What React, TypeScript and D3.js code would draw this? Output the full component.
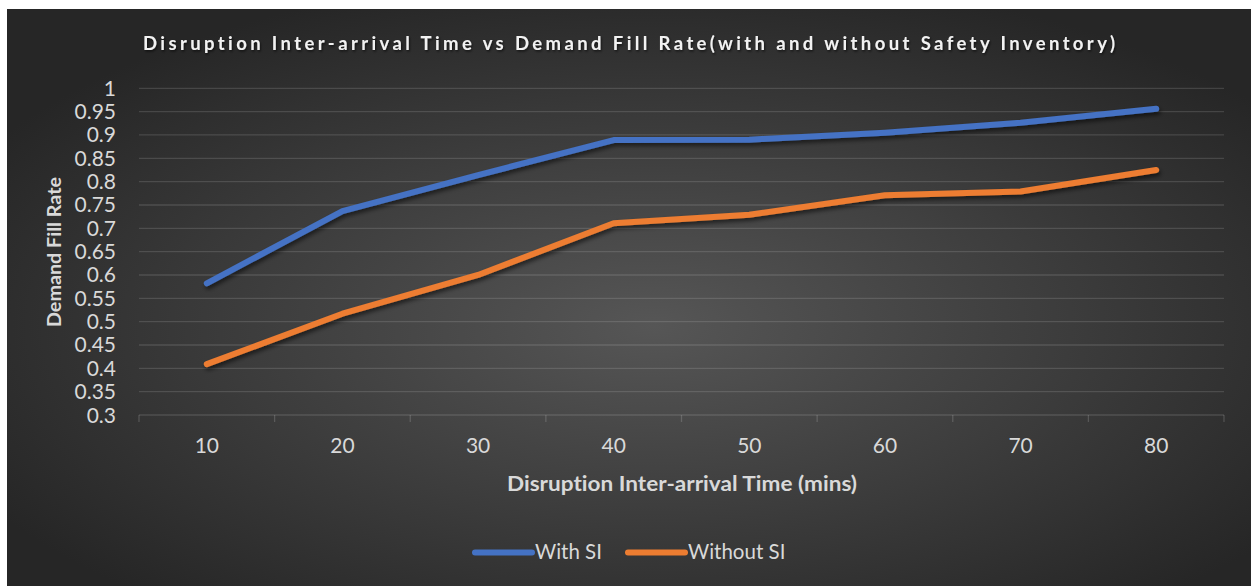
import React from "react";
import * as d3 from "d3";

const categories = ["10", "20", "30", "40", "50", "60", "70", "80"];
const withSI = [0.582, 0.737, 0.814, 0.889, 0.890, 0.905, 0.926, 0.956];
const withoutSI = [0.409, 0.517, 0.600, 0.711, 0.729, 0.771, 0.779, 0.825];
const yTicks = [0.3, 0.35, 0.4, 0.45, 0.5, 0.55, 0.6, 0.65, 0.7, 0.75, 0.8, 0.85, 0.9, 0.95, 1];
const seriesNames = ["With SI", "Without SI"];
const seriesColors = ["#4472C4", "#ED7D31"];

const W = 1255;
const H = 586;
const FONT = "Lato, 'Open Sans', sans-serif";

export default function App() {
  const x = d3.scaleBand<string>().domain(categories).range([139, 1224]).padding(0);
  const y = d3.scaleLinear().domain([0.3, 1]).range([415, 88.3]);
  const cx = (c: string) => (x(c) as number) + x.bandwidth() / 2;

  const line = d3
    .line<number>()
    .x((_, i) => cx(categories[i]))
    .y((v) => y(v));

  const series = [withSI, withoutSI];
  const boundaries = categories.map((c) => x(c) as number).concat([1224]);

  return (
    <svg
      width={W}
      height={H}
      style={{ position: "absolute", left: 0, top: 0, display: "block", fontVariantLigatures: "none" }}
    >
      <defs>
        <radialGradient id="bg" cx="52%" cy="55%" r="62%">
          <stop offset="0" stopColor="#565656" />
          <stop offset="1" stopColor="#262626" />
        </radialGradient>
        <filter id="shadow" x="-5%" y="-20%" width="110%" height="140%">
          <feDropShadow dx="1.5" dy="3" stdDeviation="2" floodColor="#000" floodOpacity="0.55" />
        </filter>
        <filter id="tshadow" x="-5%" y="-50%" width="110%" height="200%">
          <feDropShadow dx="1" dy="1.5" stdDeviation="1" floodColor="#000" floodOpacity="0.6" />
        </filter>
      </defs>

      <rect x={0} y={0} width={W} height={H} fill="#ffffff" />
      <rect x={7} y={9} width={1244} height={H - 9} fill="url(#bg)" />

      {/* title */}
      <text
        x={629}
        y={50}
        textAnchor="middle"
        fill="#f2f2f2"
        fontFamily={FONT}
        fontWeight={700}
        fontSize={18.5}
        textLength={972}
        lengthAdjust="spacing"
        filter="url(#tshadow)"
      >
        Disruption Inter-arrival Time vs Demand Fill Rate(with and without Safety Inventory)
      </text>

      {/* horizontal gridlines */}
      {yTicks.map((t) => (
        <line
          key={"g" + t}
          x1={139}
          x2={1224}
          y1={y(t)}
          y2={y(t)}
          stroke="#d9d9d9"
          strokeOpacity={0.16}
          strokeWidth={1.3}
        />
      ))}

      {/* x tick marks */}
      {boundaries.map((b, i) => (
        <line
          key={"t" + i}
          x1={b}
          x2={b}
          y1={y(0.3)}
          y2={y(0.3) + 7}
          stroke="#d9d9d9"
          strokeOpacity={0.2}
          strokeWidth={1.3}
        />
      ))}

      {/* y tick labels */}
      {yTicks.map((t) => (
        <text
          key={"l" + t}
          x={116}
          y={y(t) + 7.5}
          textAnchor="end"
          fill="#d9d9d9"
          fontFamily={FONT}
          fontSize={21}
        >
          {String(t)}
        </text>
      ))}

      {/* x tick labels */}
      {categories.map((c) => (
        <text
          key={"x" + c}
          x={cx(c)}
          y={453}
          textAnchor="middle"
          fill="#d9d9d9"
          fontFamily={FONT}
          fontSize={21}
        >
          {c}
        </text>
      ))}

      {/* axis titles */}
      <text
        x={682}
        y={491}
        textAnchor="middle"
        fill="#d9d9d9"
        fontFamily={FONT}
        fontWeight={700}
        fontSize={20}
        textLength={350}
        lengthAdjust="spacingAndGlyphs"
      >
        Disruption Inter-arrival Time (mins)
      </text>
      <text
        transform="translate(61,252) rotate(-90)"
        textAnchor="middle"
        fill="#d9d9d9"
        fontFamily={FONT}
        fontWeight={700}
        fontSize={18}
        textLength={150}
        lengthAdjust="spacingAndGlyphs"
      >
        Demand Fill Rate
      </text>

      {/* data lines */}
      {series.map((s, i) => (
        <path
          key={"s" + i}
          d={line(s) as string}
          fill="none"
          stroke={seriesColors[i]}
          strokeWidth={6}
          strokeLinecap="round"
          strokeLinejoin="round"
          filter="url(#shadow)"
        />
      ))}

      {/* legend */}
      {seriesNames.map((n, i) => {
        const lx = i === 0 ? 475 : 628;
        return (
          <g key={"lg" + n}>
            <line
              x1={lx}
              x2={lx + 57}
              y1={552.5}
              y2={552.5}
              stroke={seriesColors[i]}
              strokeWidth={6}
              strokeLinecap="round"
            />
            <text
              x={lx + 60}
              y={559}
              fill="#d9d9d9"
              fontFamily={FONT}
              fontSize={20.5}
            >
              {n}
            </text>
          </g>
        );
      })}
    </svg>
  );
}
